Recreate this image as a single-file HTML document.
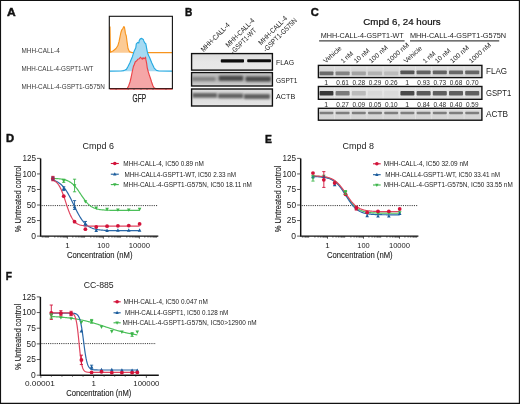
<!DOCTYPE html>
<html><head><meta charset="utf-8"><style>
html,body{margin:0;padding:0;background:#fff;width:520px;height:404px;overflow:hidden}
svg{display:block;will-change:transform}
</style></head><body>
<svg width="520" height="404" viewBox="0 0 520 404" font-family='"Liberation Sans", sans-serif'>
<defs><filter id="bl" x="-20%" y="-150%" width="140%" height="400%"><feGaussianBlur stdDeviation="0.6 0.75"/></filter><filter id="bl3" x="-20%" y="-150%" width="140%" height="400%"><feGaussianBlur stdDeviation="0.9 1.0"/></filter><linearGradient id="g0" x1="0" y1="0" x2="0" y2="1"><stop offset="0" stop-color="#dcdcdc"/><stop offset="0.5" stop-color="#e6e6e6"/><stop offset="1" stop-color="#e8e8e8"/></linearGradient><linearGradient id="g1" x1="0" y1="0" x2="0" y2="1"><stop offset="0" stop-color="#c4c4c4"/><stop offset="0.5" stop-color="#b4b4b4"/><stop offset="1" stop-color="#cdcdcd"/></linearGradient><linearGradient id="g2" x1="0" y1="0" x2="0" y2="1"><stop offset="0" stop-color="#d8d8d8"/><stop offset="0.5" stop-color="#dcdcdc"/><stop offset="1" stop-color="#e6e6e6"/></linearGradient><linearGradient id="g3" x1="0" y1="0" x2="0" y2="1"><stop offset="0" stop-color="#e0e0e0"/><stop offset="0.5" stop-color="#d4d4d4"/><stop offset="1" stop-color="#d2d2d2"/></linearGradient><linearGradient id="g4" x1="0" y1="0" x2="0" y2="1"><stop offset="0" stop-color="#e4e4e4"/><stop offset="0.5" stop-color="#e0e0e0"/><stop offset="1" stop-color="#dcdcdc"/></linearGradient><linearGradient id="g5" x1="0" y1="0" x2="0" y2="1"><stop offset="0" stop-color="#dedede"/><stop offset="0.5" stop-color="#d6d6d6"/><stop offset="1" stop-color="#d4d4d4"/></linearGradient></defs>
<rect x="0" y="0" width="520" height="404" fill="#fff"/>
<text x="7.10" y="15.90" font-size="11.20" font-weight="bold" fill="#111" textLength="8.70" lengthAdjust="spacingAndGlyphs" stroke="#111" stroke-width="0.45">A</text>
<text x="184.90" y="15.90" font-size="11.20" font-weight="bold" fill="#111" textLength="7.30" lengthAdjust="spacingAndGlyphs" stroke="#111" stroke-width="0.45">B</text>
<text x="310.70" y="16.20" font-size="11.20" font-weight="bold" fill="#111" textLength="8.10" lengthAdjust="spacingAndGlyphs" stroke="#111" stroke-width="0.45">C</text>
<text x="5.90" y="142.00" font-size="11.20" font-weight="bold" fill="#111" textLength="8.10" lengthAdjust="spacingAndGlyphs" stroke="#111" stroke-width="0.45">D</text>
<text x="265.10" y="142.60" font-size="11.20" font-weight="bold" fill="#111" textLength="6.90" lengthAdjust="spacingAndGlyphs" stroke="#111" stroke-width="0.45">E</text>
<text x="5.70" y="280.40" font-size="11.20" font-weight="bold" fill="#111" textLength="6.20" lengthAdjust="spacingAndGlyphs" stroke="#111" stroke-width="0.45">F</text>
<text x="21.50" y="53.10" font-size="6.80" fill="#383838" textLength="38.20" lengthAdjust="spacingAndGlyphs">MHH-CALL-4</text>
<text x="21.50" y="70.90" font-size="6.80" fill="#383838" textLength="71.90" lengthAdjust="spacingAndGlyphs">MHH-CALL-4-GSPT1-WT</text>
<text x="21.50" y="88.80" font-size="6.80" fill="#383838" textLength="83.30" lengthAdjust="spacingAndGlyphs">MHH-CALL-4-GSPT1-G575N</text>
<path d="M110.00,52.80 L110.00,26.50 L110.40,52.30 L113.30,50.70 L116.00,48.50 L117.80,45.80 L119.10,41.40 L120.00,36.90 L120.90,32.50 L121.80,29.80 L122.70,28.90 L123.10,28.00 L123.90,26.50 L124.50,27.60 L124.90,29.80 L125.40,33.40 L126.30,36.00 L127.10,42.30 L128.00,48.50 L129.40,51.60 L132.00,52.60 L172.30,52.60 L172.30,52.80 Z" fill="#fccb95" stroke="none"/>
<path d="M110.00,26.50 L110.40,52.30 L113.30,50.70 L116.00,48.50 L117.80,45.80 L119.10,41.40 L120.00,36.90 L120.90,32.50 L121.80,29.80 L122.70,28.90 L123.10,28.00 L123.90,26.50 L124.50,27.60 L124.90,29.80 L125.40,33.40 L126.30,36.00 L127.10,42.30 L128.00,48.50 L129.40,51.60 L132.00,52.60 L172.30,52.60" fill="none" stroke="#f7941d" stroke-width="1.15" stroke-linejoin="round"/>
<path d="M109.80,71.20 L109.80,71.10 L121.00,71.00 L123.50,70.60 L125.00,70.00 L126.40,69.40 L128.00,66.50 L129.90,62.70 L131.20,59.50 L132.40,56.70 L133.90,51.80 L135.80,47.80 L136.30,43.90 L137.80,42.40 L138.80,42.90 L139.30,40.40 L140.30,38.90 L141.80,38.40 L143.30,39.40 L143.80,40.90 L144.80,42.90 L145.70,43.40 L146.20,45.80 L147.20,51.30 L148.20,54.80 L149.70,57.70 L151.70,62.70 L154.20,68.10 L156.50,70.40 L159.00,71.00 L172.30,71.10 L172.30,71.20 Z" fill="#a6daf2" stroke="none"/>
<path d="M109.80,71.10 L121.00,71.00 L123.50,70.60 L125.00,70.00 L126.40,69.40 L128.00,66.50 L129.90,62.70 L131.20,59.50 L132.40,56.70 L133.90,51.80 L135.80,47.80 L136.30,43.90 L137.80,42.40 L138.80,42.90 L139.30,40.40 L140.30,38.90 L141.80,38.40 L143.30,39.40 L143.80,40.90 L144.80,42.90 L145.70,43.40 L146.20,45.80 L147.20,51.30 L148.20,54.80 L149.70,57.70 L151.70,62.70 L154.20,68.10 L156.50,70.40 L159.00,71.00 L172.30,71.10" fill="none" stroke="#27aae1" stroke-width="1.15" stroke-linejoin="round"/>
<path d="M109.80,88.60 L109.80,88.60 L127.20,88.60 L128.60,86.00 L130.00,82.00 L131.20,77.00 L132.30,71.50 L133.40,66.50 L134.40,64.20 L135.30,61.70 L136.80,60.70 L137.80,59.20 L139.30,58.70 L140.30,57.20 L141.30,58.20 L142.30,59.20 L143.00,57.70 L143.80,58.70 L144.80,58.20 L145.50,57.20 L145.90,59.70 L146.70,63.70 L147.20,67.60 L148.20,71.50 L149.30,75.00 L150.50,78.50 L151.60,82.00 L152.80,85.50 L154.00,87.80 L155.50,88.60 L172.30,88.60 L172.30,88.60 Z" fill="#f5a6a7" stroke="none"/>
<path d="M109.80,88.60 L127.20,88.60 L128.60,86.00 L130.00,82.00 L131.20,77.00 L132.30,71.50 L133.40,66.50 L134.40,64.20 L135.30,61.70 L136.80,60.70 L137.80,59.20 L139.30,58.70 L140.30,57.20 L141.30,58.20 L142.30,59.20 L143.00,57.70 L143.80,58.70 L144.80,58.20 L145.50,57.20 L145.90,59.70 L146.70,63.70 L147.20,67.60 L148.20,71.50 L149.30,75.00 L150.50,78.50 L151.60,82.00 L152.80,85.50 L154.00,87.80 L155.50,88.60 L172.30,88.60" fill="none" stroke="#ea4448" stroke-width="1.15" stroke-linejoin="round"/>
<rect x="109.3" y="16.3" width="63.1" height="72.4" fill="none" stroke="#111" stroke-width="1.1"/>
<path d="M110,89.3 H172.5" stroke="#e33" stroke-width="0.8" opacity="0.75"/>
<path d="M116.1,89 V90 M128.2,89 V90 M134,89 V90 M141,89 V90 M147,89 V90 M153,89 V90 M166,89 V90" stroke="#333" stroke-width="0.8" opacity="0.6"/>
<text x="132.60" y="102.30" font-size="10.30" fill="#222" textLength="13.40" lengthAdjust="spacingAndGlyphs" stroke="#222" stroke-width="0.25">GFP</text>
<rect x="191.60" y="53.60" width="80.80" height="16.50" fill="url(#g0)" stroke="none"/>
<rect x="220.80" y="59.20" width="23.20" height="3.40" rx="0.8" fill="#0c0c0c" opacity="1" filter="url(#bl)"/>
<rect x="247.20" y="59.15" width="23.80" height="3.10" rx="0.8" fill="#111" opacity="1" filter="url(#bl)"/>
<rect x="192.50" y="54.50" width="79.00" height="14.70" fill="none" stroke="#fff" stroke-width="0.5" opacity="0.6"/>
<rect x="191.60" y="53.60" width="80.80" height="16.50" fill="none" stroke="#111" stroke-width="1.4"/>
<rect x="191.60" y="72.60" width="80.80" height="13.40" fill="url(#g1)" stroke="none"/>
<rect x="192.00" y="76.90" width="23.50" height="4.00" rx="0.8" fill="#848484" opacity="1" filter="url(#bl3)"/>
<rect x="218.80" y="75.80" width="24.40" height="5.00" rx="0.8" fill="#484848" opacity="1" filter="url(#bl3)"/>
<rect x="245.60" y="76.40" width="25.20" height="5.00" rx="0.8" fill="#4c4c4c" opacity="1" filter="url(#bl3)"/>
<rect x="192.50" y="73.50" width="79.00" height="11.60" fill="none" stroke="#fff" stroke-width="0.5" opacity="0.6"/>
<rect x="191.60" y="72.60" width="80.80" height="13.40" fill="none" stroke="#111" stroke-width="1.4"/>
<rect x="191.60" y="89.00" width="80.80" height="17.00" fill="url(#g2)" stroke="none"/>
<rect x="192.40" y="92.90" width="24.80" height="4.80" rx="0.8" fill="#646464" opacity="1" filter="url(#bl3)"/>
<rect x="218.00" y="93.50" width="25.20" height="4.80" rx="0.8" fill="#606060" opacity="1" filter="url(#bl3)"/>
<rect x="243.80" y="94.10" width="26.20" height="4.80" rx="0.8" fill="#606060" opacity="1" filter="url(#bl3)"/>
<rect x="192.50" y="89.90" width="79.00" height="15.20" fill="none" stroke="#fff" stroke-width="0.5" opacity="0.6"/>
<rect x="191.60" y="89.00" width="80.80" height="17.00" fill="none" stroke="#111" stroke-width="1.4"/>
<text x="276.00" y="64.90" font-size="7.50" fill="#222" textLength="18.00" lengthAdjust="spacingAndGlyphs">FLAG</text>
<text x="276.00" y="83.00" font-size="7.50" fill="#222" textLength="21.50" lengthAdjust="spacingAndGlyphs">GSPT1</text>
<text x="276.00" y="98.70" font-size="7.50" fill="#222" textLength="19.20" lengthAdjust="spacingAndGlyphs">ACTB</text>
<text x="203.70" y="52.20" font-size="7.20" fill="#222" textLength="37.60" lengthAdjust="spacingAndGlyphs" transform="rotate(-45 203.70 52.20)">MHH-CALL-4</text>
<text x="228.40" y="47.70" font-size="7.20" fill="#222" textLength="37.60" lengthAdjust="spacingAndGlyphs" transform="rotate(-45 228.40 47.70)">MHH-CALL-4</text>
<text x="233.60" y="54.20" font-size="7.20" fill="#222" textLength="33.00" lengthAdjust="spacingAndGlyphs" transform="rotate(-45 233.60 54.20)">-GSPT1-WT</text>
<text x="261.20" y="45.40" font-size="7.20" fill="#222" textLength="37.60" lengthAdjust="spacingAndGlyphs" transform="rotate(-45 261.20 45.40)">MHH-CALL-4</text>
<text x="266.00" y="52.40" font-size="7.20" fill="#222" textLength="44.60" lengthAdjust="spacingAndGlyphs" transform="rotate(-45 266.00 52.40)">-GSPT1-G575N</text>
<text x="363.30" y="24.60" font-size="8.90" fill="#111" textLength="77.40" lengthAdjust="spacingAndGlyphs" stroke="#111" stroke-width="0.2">Cmpd 6, 24 hours</text>
<text x="320.70" y="38.00" font-size="7.20" fill="#222" textLength="83.10" lengthAdjust="spacingAndGlyphs">MHH-CALL-4-GSPT1-WT</text>
<text x="409.90" y="38.30" font-size="7.20" fill="#222" textLength="96.20" lengthAdjust="spacingAndGlyphs">MHH-CALL-4-GSPT1-G575N</text>
<path d="M319.1,40.9 H404.6 M410,40.9 H499.2" stroke="#444" stroke-width="1.4"/>
<text x="325.81" y="63.60" font-size="6.70" fill="#222" textLength="22.00" lengthAdjust="spacingAndGlyphs" transform="rotate(-42 325.81 63.60)">Vehicle</text>
<text x="343.15" y="63.60" font-size="6.70" fill="#222" textLength="14.20" lengthAdjust="spacingAndGlyphs" transform="rotate(-42 343.15 63.60)">1 nM</text>
<text x="356.38" y="63.60" font-size="6.70" fill="#222" textLength="18.50" lengthAdjust="spacingAndGlyphs" transform="rotate(-42 356.38 63.60)">10 nM</text>
<text x="371.21" y="63.60" font-size="6.70" fill="#222" textLength="23.00" lengthAdjust="spacingAndGlyphs" transform="rotate(-42 371.21 63.60)">100 nM</text>
<text x="389.44" y="63.60" font-size="6.70" fill="#222" textLength="27.00" lengthAdjust="spacingAndGlyphs" transform="rotate(-42 389.44 63.60)">1000 nM</text>
<text x="406.27" y="63.60" font-size="6.70" fill="#222" textLength="22.00" lengthAdjust="spacingAndGlyphs" transform="rotate(-42 406.27 63.60)">Vehicle</text>
<text x="425.30" y="63.60" font-size="6.70" fill="#222" textLength="14.20" lengthAdjust="spacingAndGlyphs" transform="rotate(-42 425.30 63.60)">1 nM</text>
<text x="437.32" y="63.60" font-size="6.70" fill="#222" textLength="18.50" lengthAdjust="spacingAndGlyphs" transform="rotate(-42 437.32 63.60)">10 nM</text>
<text x="452.56" y="63.60" font-size="6.70" fill="#222" textLength="23.00" lengthAdjust="spacingAndGlyphs" transform="rotate(-42 452.56 63.60)">100 nM</text>
<text x="471.38" y="63.60" font-size="6.70" fill="#222" textLength="27.00" lengthAdjust="spacingAndGlyphs" transform="rotate(-42 471.38 63.60)">1000 nM</text>
<rect x="318.40" y="65.40" width="163.50" height="12.20" fill="url(#g3)" stroke="none"/>
<rect x="319.40" y="71.50" width="14.00" height="3.80" rx="0.8" fill="#6a6a6a" opacity="1" filter="url(#bl)"/>
<rect x="335.60" y="71.50" width="14.00" height="3.80" rx="0.8" fill="#838383" opacity="1" filter="url(#bl)"/>
<rect x="351.80" y="71.50" width="14.00" height="3.80" rx="0.8" fill="#a3a3a3" opacity="1" filter="url(#bl)"/>
<rect x="368.00" y="71.50" width="14.00" height="3.80" rx="0.8" fill="#b3b3b3" opacity="1" filter="url(#bl)"/>
<rect x="384.20" y="71.50" width="14.00" height="3.80" rx="0.8" fill="#bcbcbc" opacity="1" filter="url(#bl)"/>
<rect x="400.40" y="70.50" width="14.00" height="3.80" rx="0.8" fill="#555555" opacity="1" filter="url(#bl)"/>
<rect x="416.60" y="70.50" width="14.00" height="3.80" rx="0.8" fill="#626262" opacity="1" filter="url(#bl)"/>
<rect x="432.80" y="70.50" width="14.00" height="3.80" rx="0.8" fill="#646464" opacity="1" filter="url(#bl)"/>
<rect x="449.00" y="70.50" width="14.00" height="3.80" rx="0.8" fill="#686868" opacity="1" filter="url(#bl)"/>
<rect x="465.20" y="70.50" width="14.00" height="3.80" rx="0.8" fill="#666666" opacity="1" filter="url(#bl)"/>
<path d="M334.50,65.40 V77.60 M350.70,65.40 V77.60 M366.90,65.40 V77.60 M383.10,65.40 V77.60 M399.30,65.40 V77.60 M415.50,65.40 V77.60 M431.70,65.40 V77.60 M447.90,65.40 V77.60 M464.10,65.40 V77.60 " stroke="#fff" stroke-width="0.8" opacity="0.35"/>
<rect x="319.30" y="66.30" width="161.70" height="10.40" fill="none" stroke="#fff" stroke-width="0.5" opacity="0.6"/>
<rect x="318.40" y="65.40" width="163.50" height="12.20" fill="none" stroke="#111" stroke-width="1.4"/>
<rect x="318.40" y="86.50" width="163.50" height="12.80" fill="url(#g4)" stroke="none"/>
<rect x="319.40" y="91.10" width="14.00" height="4.40" rx="0.8" fill="#383838" opacity="1" filter="url(#bl)"/>
<rect x="335.60" y="91.10" width="14.00" height="4.40" rx="0.8" fill="#7a7a7a" opacity="1" filter="url(#bl)"/>
<rect x="351.80" y="91.10" width="14.00" height="4.40" rx="0.8" fill="#bababa" opacity="1" filter="url(#bl)"/>
<rect x="368.00" y="91.10" width="14.00" height="4.40" rx="0.8" fill="#d8d8d8" opacity="1" filter="url(#bl)"/>
<rect x="384.20" y="91.10" width="14.00" height="4.40" rx="0.8" fill="#dadada" opacity="1" filter="url(#bl)"/>
<rect x="400.40" y="91.10" width="14.00" height="4.40" rx="0.8" fill="#4a4a4a" opacity="1" filter="url(#bl)"/>
<rect x="416.60" y="91.10" width="14.00" height="4.40" rx="0.8" fill="#5a5a5a" opacity="1" filter="url(#bl)"/>
<rect x="432.80" y="91.10" width="14.00" height="4.40" rx="0.8" fill="#5e5e5e" opacity="1" filter="url(#bl)"/>
<rect x="449.00" y="91.10" width="14.00" height="4.40" rx="0.8" fill="#5e5e5e" opacity="1" filter="url(#bl)"/>
<rect x="465.20" y="91.10" width="14.00" height="4.40" rx="0.8" fill="#606060" opacity="1" filter="url(#bl)"/>
<path d="M334.50,86.50 V99.30 M350.70,86.50 V99.30 M366.90,86.50 V99.30 M383.10,86.50 V99.30 M399.30,86.50 V99.30 M415.50,86.50 V99.30 M431.70,86.50 V99.30 M447.90,86.50 V99.30 M464.10,86.50 V99.30 " stroke="#fff" stroke-width="0.8" opacity="0.35"/>
<rect x="319.30" y="87.40" width="161.70" height="11.00" fill="none" stroke="#fff" stroke-width="0.5" opacity="0.6"/>
<rect x="318.40" y="86.50" width="163.50" height="12.80" fill="none" stroke="#111" stroke-width="1.4"/>
<rect x="318.40" y="108.30" width="163.50" height="11.90" fill="url(#g5)" stroke="none"/>
<rect x="319.40" y="111.85" width="14.00" height="2.30" rx="0.8" fill="#7e7e7e" opacity="1" filter="url(#bl)"/>
<rect x="335.60" y="111.85" width="14.00" height="2.30" rx="0.8" fill="#7e7e7e" opacity="1" filter="url(#bl)"/>
<rect x="351.80" y="111.85" width="14.00" height="2.30" rx="0.8" fill="#7e7e7e" opacity="1" filter="url(#bl)"/>
<rect x="368.00" y="111.85" width="14.00" height="2.30" rx="0.8" fill="#7e7e7e" opacity="1" filter="url(#bl)"/>
<rect x="384.20" y="111.85" width="14.00" height="2.30" rx="0.8" fill="#7e7e7e" opacity="1" filter="url(#bl)"/>
<rect x="400.40" y="111.85" width="14.00" height="2.30" rx="0.8" fill="#7e7e7e" opacity="1" filter="url(#bl)"/>
<rect x="416.60" y="111.85" width="14.00" height="2.30" rx="0.8" fill="#7e7e7e" opacity="1" filter="url(#bl)"/>
<rect x="432.80" y="111.85" width="14.00" height="2.30" rx="0.8" fill="#7e7e7e" opacity="1" filter="url(#bl)"/>
<rect x="449.00" y="111.85" width="14.00" height="2.30" rx="0.8" fill="#7e7e7e" opacity="1" filter="url(#bl)"/>
<rect x="465.20" y="111.85" width="14.00" height="2.30" rx="0.8" fill="#7e7e7e" opacity="1" filter="url(#bl)"/>
<path d="M334.50,108.30 V120.20 M350.70,108.30 V120.20 M366.90,108.30 V120.20 M383.10,108.30 V120.20 M399.30,108.30 V120.20 M415.50,108.30 V120.20 M431.70,108.30 V120.20 M447.90,108.30 V120.20 M464.10,108.30 V120.20 " stroke="#fff" stroke-width="0.8" opacity="0.35"/>
<rect x="319.30" y="109.20" width="161.70" height="10.10" fill="none" stroke="#fff" stroke-width="0.5" opacity="0.6"/>
<rect x="318.40" y="108.30" width="163.50" height="11.90" fill="none" stroke="#111" stroke-width="1.4"/>
<text x="326.10" y="84.90" font-size="6.90" text-anchor="middle" fill="#2a2a2a">1</text>
<text x="326.10" y="106.60" font-size="6.90" text-anchor="middle" fill="#2a2a2a">1</text>
<text x="342.60" y="84.90" font-size="6.90" text-anchor="middle" fill="#2a2a2a" textLength="12.60" lengthAdjust="spacingAndGlyphs">0.61</text>
<text x="342.60" y="106.60" font-size="6.90" text-anchor="middle" fill="#2a2a2a" textLength="12.60" lengthAdjust="spacingAndGlyphs">0.27</text>
<text x="358.80" y="84.90" font-size="6.90" text-anchor="middle" fill="#2a2a2a" textLength="12.60" lengthAdjust="spacingAndGlyphs">0.28</text>
<text x="358.80" y="106.60" font-size="6.90" text-anchor="middle" fill="#2a2a2a" textLength="12.60" lengthAdjust="spacingAndGlyphs">0.09</text>
<text x="375.00" y="84.90" font-size="6.90" text-anchor="middle" fill="#2a2a2a" textLength="12.60" lengthAdjust="spacingAndGlyphs">0.29</text>
<text x="375.00" y="106.60" font-size="6.90" text-anchor="middle" fill="#2a2a2a" textLength="12.60" lengthAdjust="spacingAndGlyphs">0.05</text>
<text x="391.20" y="84.90" font-size="6.90" text-anchor="middle" fill="#2a2a2a" textLength="12.60" lengthAdjust="spacingAndGlyphs">0.26</text>
<text x="391.20" y="106.60" font-size="6.90" text-anchor="middle" fill="#2a2a2a" textLength="12.60" lengthAdjust="spacingAndGlyphs">0.10</text>
<text x="407.10" y="84.90" font-size="6.90" text-anchor="middle" fill="#2a2a2a">1</text>
<text x="407.10" y="106.60" font-size="6.90" text-anchor="middle" fill="#2a2a2a">1</text>
<text x="423.60" y="84.90" font-size="6.90" text-anchor="middle" fill="#2a2a2a" textLength="12.60" lengthAdjust="spacingAndGlyphs">0.93</text>
<text x="423.60" y="106.60" font-size="6.90" text-anchor="middle" fill="#2a2a2a" textLength="12.60" lengthAdjust="spacingAndGlyphs">0.84</text>
<text x="439.80" y="84.90" font-size="6.90" text-anchor="middle" fill="#2a2a2a" textLength="12.60" lengthAdjust="spacingAndGlyphs">0.73</text>
<text x="439.80" y="106.60" font-size="6.90" text-anchor="middle" fill="#2a2a2a" textLength="12.60" lengthAdjust="spacingAndGlyphs">0.48</text>
<text x="456.00" y="84.90" font-size="6.90" text-anchor="middle" fill="#2a2a2a" textLength="12.60" lengthAdjust="spacingAndGlyphs">0.68</text>
<text x="456.00" y="106.60" font-size="6.90" text-anchor="middle" fill="#2a2a2a" textLength="12.60" lengthAdjust="spacingAndGlyphs">0.40</text>
<text x="472.20" y="84.90" font-size="6.90" text-anchor="middle" fill="#2a2a2a" textLength="12.60" lengthAdjust="spacingAndGlyphs">0.70</text>
<text x="472.20" y="106.60" font-size="6.90" text-anchor="middle" fill="#2a2a2a" textLength="12.60" lengthAdjust="spacingAndGlyphs">0.59</text>
<text x="486.00" y="74.20" font-size="9.00" fill="#222" textLength="21.00" lengthAdjust="spacingAndGlyphs">FLAG</text>
<text x="486.00" y="96.20" font-size="9.00" fill="#222" textLength="25.20" lengthAdjust="spacingAndGlyphs">GSPT1</text>
<text x="486.00" y="117.10" font-size="9.00" fill="#222" textLength="22.00" lengthAdjust="spacingAndGlyphs">ACTB</text>
<path d="M40.60,158.40 V236.70 M40.00,236.10 H158.30" stroke="#111" stroke-width="1.45" fill="none"/>
<path d="M37.00,236.10 H40.60 M37.00,220.56 H40.60 M37.00,205.02 H40.60 M37.00,189.48 H40.60 M37.00,173.94 H40.60 M37.00,158.40 H40.60 M67.40,236.10 V238.70 M103.40,236.10 V238.70 M139.40,236.10 V238.70 M42.24,236.10 V237.60 M43.98,236.10 V237.60 M45.41,236.10 V237.60 M46.61,236.10 V237.60 M47.66,236.10 V237.60 M48.58,236.10 V237.60 M54.82,236.10 V237.60 M57.99,236.10 V237.60 M60.24,236.10 V237.60 M61.98,236.10 V237.60 M63.41,236.10 V237.60 M64.61,236.10 V237.60 M65.66,236.10 V237.60 M66.58,236.10 V237.60 M72.82,236.10 V237.60 M75.99,236.10 V237.60 M78.24,236.10 V237.60 M79.98,236.10 V237.60 M81.41,236.10 V237.60 M82.61,236.10 V237.60 M83.66,236.10 V237.60 M84.58,236.10 V237.60 M90.82,236.10 V237.60 M93.99,236.10 V237.60 M96.24,236.10 V237.60 M97.98,236.10 V237.60 M99.41,236.10 V237.60 M100.61,236.10 V237.60 M101.66,236.10 V237.60 M102.58,236.10 V237.60 M108.82,236.10 V237.60 M111.99,236.10 V237.60 M114.24,236.10 V237.60 M115.98,236.10 V237.60 M117.41,236.10 V237.60 M118.61,236.10 V237.60 M119.66,236.10 V237.60 M120.58,236.10 V237.60 M126.82,236.10 V237.60 M129.99,236.10 V237.60 M132.24,236.10 V237.60 M133.98,236.10 V237.60 M135.41,236.10 V237.60 M136.61,236.10 V237.60 M137.66,236.10 V237.60 M138.58,236.10 V237.60 M144.82,236.10 V237.60 M147.99,236.10 V237.60 M150.24,236.10 V237.60 M151.98,236.10 V237.60 M153.41,236.10 V237.60 M154.61,236.10 V237.60 M155.66,236.10 V237.60 M156.58,236.10 V237.60 " stroke="#222" stroke-width="0.75" fill="none"/>
<text x="36.00" y="238.85" font-size="8.50" text-anchor="end" fill="#222">0</text>
<text x="36.00" y="223.31" font-size="8.50" text-anchor="end" fill="#222" textLength="9.30" lengthAdjust="spacingAndGlyphs">25</text>
<text x="36.00" y="207.77" font-size="8.50" text-anchor="end" fill="#222" textLength="9.30" lengthAdjust="spacingAndGlyphs">50</text>
<text x="36.00" y="192.23" font-size="8.50" text-anchor="end" fill="#222" textLength="9.30" lengthAdjust="spacingAndGlyphs">75</text>
<text x="36.00" y="176.69" font-size="8.50" text-anchor="end" fill="#222" textLength="13.60" lengthAdjust="spacingAndGlyphs">100</text>
<text x="36.00" y="161.15" font-size="8.50" text-anchor="end" fill="#222" textLength="13.60" lengthAdjust="spacingAndGlyphs">125</text>
<text x="67.40" y="248.40" font-size="7.90" text-anchor="middle" fill="#222">1</text>
<text x="103.40" y="248.40" font-size="7.90" text-anchor="middle" fill="#222" textLength="12.40" lengthAdjust="spacingAndGlyphs">100</text>
<text x="139.40" y="248.40" font-size="7.90" text-anchor="middle" fill="#222" textLength="21.20" lengthAdjust="spacingAndGlyphs">10000</text>
<text x="66.90" y="257.80" font-size="9.80" fill="#222" textLength="65.60" lengthAdjust="spacingAndGlyphs" stroke="#222" stroke-width="0.12">Concentration (nM)</text>
<text x="20.70" y="199.00" font-size="8.90" text-anchor="middle" fill="#222" textLength="66.50" lengthAdjust="spacingAndGlyphs" transform="rotate(-90 20.70 199.00)" stroke="#222" stroke-width="0.12">% Untreated control</text>
<text x="82.50" y="148.90" font-size="8.40" fill="#222" textLength="31.40" lengthAdjust="spacingAndGlyphs">Cmpd 6</text>
<path d="M41.60,205.58 H157.70" stroke="#222" stroke-width="0.9" stroke-dasharray="1.1 1.1"/>
<path d="M52.89,178.43 L53.61,178.45 L54.33,178.48 L55.06,178.51 L55.78,178.55 L56.50,178.59 L57.22,178.64 L57.95,178.69 L58.67,178.75 L59.39,178.82 L60.11,178.90 L60.84,178.99 L61.56,179.10 L62.28,179.22 L63.00,179.35 L63.73,179.50 L64.45,179.68 L65.17,179.87 L65.89,180.10 L66.62,180.35 L67.34,180.63 L68.06,180.94 L68.78,181.30 L69.51,181.69 L70.23,182.13 L70.95,182.62 L71.67,183.16 L72.40,183.75 L73.12,184.40 L73.84,185.10 L74.56,185.86 L75.29,186.68 L76.01,187.55 L76.73,188.47 L77.45,189.44 L78.18,190.45 L78.90,191.49 L79.62,192.56 L80.34,193.65 L81.07,194.74 L81.79,195.83 L82.51,196.90 L83.23,197.95 L83.96,198.97 L84.68,199.95 L85.40,200.89 L86.12,201.77 L86.84,202.60 L87.57,203.38 L88.29,204.09 L89.01,204.75 L89.73,205.36 L90.46,205.91 L91.18,206.41 L91.90,206.86 L92.62,207.27 L93.35,207.63 L94.07,207.96 L94.79,208.25 L95.51,208.51 L96.24,208.74 L96.96,208.94 L97.68,209.12 L98.40,209.28 L99.13,209.42 L99.85,209.54 L100.57,209.65 L101.29,209.74 L102.02,209.82 L102.74,209.90 L103.46,209.96 L104.18,210.02 L104.91,210.07 L105.63,210.11 L106.35,210.15 L107.07,210.18 L107.80,210.21 L108.52,210.23 L109.24,210.26 L109.96,210.28 L110.69,210.29 L111.41,210.31 L112.13,210.32 L112.85,210.33 L113.58,210.34 L114.30,210.35 L115.02,210.36 L115.74,210.36 L116.47,210.37 L117.19,210.37 L117.91,210.38 L118.63,210.38 L119.36,210.39 L120.08,210.39 L120.80,210.39 L121.52,210.39 L122.25,210.39 L122.97,210.40 L123.69,210.40 L124.41,210.40 L125.14,210.40 L125.86,210.40 L126.58,210.40 L127.30,210.40 L128.03,210.40 L128.75,210.40 L129.47,210.40 L130.19,210.41 L130.92,210.41 L131.64,210.41 L132.36,210.41 L133.08,210.41 L133.81,210.41 L134.53,210.41 L135.25,210.41 L135.97,210.41 L136.70,210.41 L137.42,210.41 L138.14,210.41 L138.86,210.41 L139.59,210.41" fill="none" stroke="#4cc05a" stroke-width="1.2" stroke-linejoin="round"/>
<path d="M52.89,180.11 L53.61,180.33 L54.33,180.57 L55.06,180.84 L55.78,181.14 L56.50,181.47 L57.22,181.84 L57.95,182.25 L58.67,182.69 L59.39,183.19 L60.11,183.73 L60.84,184.32 L61.56,184.97 L62.28,185.67 L63.00,186.44 L63.73,187.27 L64.45,188.16 L65.17,189.12 L65.89,190.15 L66.62,191.25 L67.34,192.41 L68.06,193.64 L68.78,194.92 L69.51,196.26 L70.23,197.65 L70.95,199.08 L71.67,200.55 L72.40,202.04 L73.12,203.55 L73.84,205.06 L74.56,206.57 L75.29,208.07 L76.01,209.54 L76.73,210.98 L77.45,212.38 L78.18,213.74 L78.90,215.03 L79.62,216.27 L80.34,217.45 L81.07,218.56 L81.79,219.61 L82.51,220.58 L83.23,221.49 L83.96,222.34 L84.68,223.12 L85.40,223.84 L86.12,224.50 L86.84,225.10 L87.57,225.66 L88.29,226.16 L89.01,226.62 L89.73,227.03 L90.46,227.41 L91.18,227.75 L91.90,228.05 L92.62,228.33 L93.35,228.58 L94.07,228.80 L94.79,229.00 L95.51,229.18 L96.24,229.35 L96.96,229.49 L97.68,229.62 L98.40,229.74 L99.13,229.84 L99.85,229.93 L100.57,230.02 L101.29,230.09 L102.02,230.16 L102.74,230.22 L103.46,230.27 L104.18,230.32 L104.91,230.36 L105.63,230.40 L106.35,230.43 L107.07,230.46 L107.80,230.49 L108.52,230.51 L109.24,230.53 L109.96,230.55 L110.69,230.57 L111.41,230.58 L112.13,230.60 L112.85,230.61 L113.58,230.62 L114.30,230.63 L115.02,230.64 L115.74,230.65 L116.47,230.65 L117.19,230.66 L117.91,230.66 L118.63,230.67 L119.36,230.67 L120.08,230.68 L120.80,230.68 L121.52,230.68 L122.25,230.69 L122.97,230.69 L123.69,230.69 L124.41,230.69 L125.14,230.69 L125.86,230.69 L126.58,230.70 L127.30,230.70 L128.03,230.70 L128.75,230.70 L129.47,230.70 L130.19,230.70 L130.92,230.70 L131.64,230.70 L132.36,230.70 L133.08,230.70 L133.81,230.70 L134.53,230.70 L135.25,230.70 L135.97,230.70 L136.70,230.70 L137.42,230.70 L138.14,230.71 L138.86,230.71 L139.59,230.71" fill="none" stroke="#2a68a8" stroke-width="1.2" stroke-linejoin="round"/>
<path d="M52.89,179.98 L53.61,180.31 L54.33,180.71 L55.06,181.17 L55.78,181.72 L56.50,182.36 L57.22,183.11 L57.95,183.98 L58.67,184.98 L59.39,186.12 L60.11,187.41 L60.84,188.86 L61.56,190.47 L62.28,192.22 L63.00,194.12 L63.73,196.14 L64.45,198.25 L65.17,200.43 L65.89,202.64 L66.62,204.85 L67.34,207.01 L68.06,209.09 L68.78,211.06 L69.51,212.90 L70.23,214.60 L70.95,216.15 L71.67,217.53 L72.40,218.76 L73.12,219.85 L73.84,220.80 L74.56,221.62 L75.29,222.32 L76.01,222.93 L76.73,223.44 L77.45,223.88 L78.18,224.25 L78.90,224.56 L79.62,224.83 L80.34,225.05 L81.07,225.23 L81.79,225.39 L82.51,225.52 L83.23,225.63 L83.96,225.72 L84.68,225.79 L85.40,225.86 L86.12,225.91 L86.84,225.95 L87.57,225.99 L88.29,226.02 L89.01,226.04 L89.73,226.06 L90.46,226.08 L91.18,226.10 L91.90,226.11 L92.62,226.12 L93.35,226.13 L94.07,226.13 L94.79,226.14 L95.51,226.14 L96.24,226.15 L96.96,226.15 L97.68,226.15 L98.40,226.16 L99.13,226.16 L99.85,226.16 L100.57,226.16 L101.29,226.16 L102.02,226.16 L102.74,226.16 L103.46,226.16 L104.18,226.17 L104.91,226.17 L105.63,226.17 L106.35,226.17 L107.07,226.17 L107.80,226.17 L108.52,226.17 L109.24,226.17 L109.96,226.17 L110.69,226.17 L111.41,226.17 L112.13,226.17 L112.85,226.17 L113.58,226.17 L114.30,226.17 L115.02,226.17 L115.74,226.17 L116.47,226.17 L117.19,226.17 L117.91,226.17 L118.63,226.17 L119.36,226.17 L120.08,226.17 L120.80,226.17 L121.52,226.17 L122.25,226.17 L122.97,226.17 L123.69,226.17 L124.41,226.17 L125.14,226.17 L125.86,226.17 L126.58,226.17 L127.30,226.17 L128.03,226.17 L128.75,226.17 L129.47,226.17 L130.19,226.17 L130.92,226.17 L131.64,226.17 L132.36,226.17 L133.08,226.17 L133.81,226.17 L134.53,226.17 L135.25,226.17 L135.97,226.17 L136.70,226.17 L137.42,226.17 L138.14,226.17 L138.86,226.17 L139.59,226.17" fill="none" stroke="#e0455f" stroke-width="1.2" stroke-linejoin="round"/>
<path d="M52.89,180.61 L54.69,177.21 L51.09,177.21 Z" fill="#3cb54a"/>
<path d="M63.73,182.76 L65.53,179.36 L61.93,179.36 Z" fill="#3cb54a"/>
<path d="M74.56,187.55 L76.36,184.15 L72.76,184.15 Z" fill="#3cb54a"/>
<path d="M85.40,203.56 L87.20,200.16 L83.60,200.16 Z" fill="#3cb54a"/>
<path d="M96.24,209.93 L98.04,206.53 L94.44,206.53 Z" fill="#3cb54a"/>
<path d="M107.07,211.19 L108.87,207.79 L105.27,207.79 Z" fill="#3cb54a"/>
<path d="M117.91,211.82 L119.71,208.42 L116.11,208.42 Z" fill="#3cb54a"/>
<path d="M128.75,211.82 L130.55,208.42 L126.95,208.42 Z" fill="#3cb54a"/>
<path d="M139.59,211.19 L141.39,207.79 L137.79,207.79 Z" fill="#3cb54a"/>
<path d="M52.89,176.53 L54.69,179.93 L51.09,179.93 Z" fill="#1b5c9c"/>
<path d="M63.73,186.62 L65.53,190.02 L61.93,190.02 Z" fill="#1b5c9c"/>
<path d="M74.56,204.90 L76.36,208.30 L72.76,208.30 Z" fill="#1b5c9c"/>
<path d="M85.40,221.67 L87.20,225.07 L83.60,225.07 Z" fill="#1b5c9c"/>
<path d="M96.24,228.54 L98.04,231.94 L94.44,231.94 Z" fill="#1b5c9c"/>
<path d="M107.07,228.54 L108.87,231.94 L105.27,231.94 Z" fill="#1b5c9c"/>
<path d="M117.91,228.35 L119.71,231.75 L116.11,231.75 Z" fill="#1b5c9c"/>
<path d="M128.75,228.23 L130.55,231.63 L126.95,231.63 Z" fill="#1b5c9c"/>
<path d="M139.59,228.23 L141.39,231.63 L137.79,231.63 Z" fill="#1b5c9c"/>
<circle cx="52.89" cy="178.57" r="1.90" fill="#d2133a"/>
<circle cx="63.73" cy="196.22" r="1.90" fill="#d2133a"/>
<circle cx="74.56" cy="221.69" r="1.90" fill="#d2133a"/>
<circle cx="85.40" cy="229.19" r="1.90" fill="#d2133a"/>
<circle cx="96.24" cy="226.99" r="1.90" fill="#d2133a"/>
<circle cx="107.07" cy="226.17" r="1.90" fill="#d2133a"/>
<circle cx="117.91" cy="225.85" r="1.90" fill="#d2133a"/>
<circle cx="128.75" cy="225.54" r="1.90" fill="#d2133a"/>
<circle cx="139.59" cy="223.96" r="1.90" fill="#d2133a"/>
<path d="M74.56,191.81 V179.20 M72.96,191.81 H76.16 M72.96,179.20 H76.16" stroke="#3cb54a" stroke-width="0.9" fill="none"/>
<path d="M63.73,182.36 V179.20 M62.13,182.36 H65.33 M62.13,179.20 H65.33" stroke="#3cb54a" stroke-width="0.9" fill="none"/>
<path d="M74.56,209.46 V200.64 M72.96,209.46 H76.16 M72.96,200.64 H76.16" stroke="#1b5c9c" stroke-width="0.9" fill="none"/>
<path d="M63.73,190.55 V186.77 M62.13,190.55 H65.33 M62.13,186.77 H65.33" stroke="#1b5c9c" stroke-width="0.9" fill="none"/>
<path d="M85.40,225.85 V221.44 M83.80,225.85 H87.00 M83.80,221.44 H87.00" stroke="#1b5c9c" stroke-width="0.9" fill="none"/>
<path d="M52.89,180.15 V177.00 M51.29,180.15 H54.49 M51.29,177.00 H54.49" stroke="#1b5c9c" stroke-width="0.9" fill="none"/>
<path d="M52.89,180.78 V176.37 M51.29,180.78 H54.49 M51.29,176.37 H54.49" stroke="#d2133a" stroke-width="0.9" fill="none"/>
<path d="M110.80,163.50 H118.80" stroke="#d2133a" stroke-width="1.1"/>
<circle cx="114.80" cy="163.50" r="1.80" fill="#d2133a"/>
<text x="123.30" y="165.80" font-size="6.60" fill="#222" textLength="80.60" lengthAdjust="spacingAndGlyphs">MHH-CALL-4, IC50 0.89 nM</text>
<path d="M110.80,174.20 H118.80" stroke="#1b5c9c" stroke-width="1.1"/>
<path d="M114.80,172.26 L116.51,175.49 L113.09,175.49 Z" fill="#1b5c9c"/>
<text x="124.50" y="176.50" font-size="6.60" fill="#222" textLength="111.50" lengthAdjust="spacingAndGlyphs">MHH-CALL4-GSPT1-WT, IC50 2.33 nM</text>
<path d="M110.80,184.60 H118.80" stroke="#3cb54a" stroke-width="1.1"/>
<path d="M114.80,186.54 L116.51,183.31 L113.09,183.31 Z" fill="#3cb54a"/>
<text x="123.30" y="186.90" font-size="6.60" fill="#222" textLength="128.60" lengthAdjust="spacingAndGlyphs">MHH-CALL-4-GSPT1-G575N, IC50 18.11 nM</text>
<path d="M300.70,158.40 V236.70 M300.10,236.10 H418.40" stroke="#111" stroke-width="1.45" fill="none"/>
<path d="M297.10,236.10 H300.70 M297.10,220.56 H300.70 M297.10,205.02 H300.70 M297.10,189.48 H300.70 M297.10,173.94 H300.70 M297.10,158.40 H300.70 M327.50,236.10 V238.70 M363.50,236.10 V238.70 M399.50,236.10 V238.70 M302.34,236.10 V237.60 M304.08,236.10 V237.60 M305.51,236.10 V237.60 M306.71,236.10 V237.60 M307.76,236.10 V237.60 M308.68,236.10 V237.60 M314.92,236.10 V237.60 M318.09,236.10 V237.60 M320.34,236.10 V237.60 M322.08,236.10 V237.60 M323.51,236.10 V237.60 M324.71,236.10 V237.60 M325.76,236.10 V237.60 M326.68,236.10 V237.60 M332.92,236.10 V237.60 M336.09,236.10 V237.60 M338.34,236.10 V237.60 M340.08,236.10 V237.60 M341.51,236.10 V237.60 M342.71,236.10 V237.60 M343.76,236.10 V237.60 M344.68,236.10 V237.60 M350.92,236.10 V237.60 M354.09,236.10 V237.60 M356.34,236.10 V237.60 M358.08,236.10 V237.60 M359.51,236.10 V237.60 M360.71,236.10 V237.60 M361.76,236.10 V237.60 M362.68,236.10 V237.60 M368.92,236.10 V237.60 M372.09,236.10 V237.60 M374.34,236.10 V237.60 M376.08,236.10 V237.60 M377.51,236.10 V237.60 M378.71,236.10 V237.60 M379.76,236.10 V237.60 M380.68,236.10 V237.60 M386.92,236.10 V237.60 M390.09,236.10 V237.60 M392.34,236.10 V237.60 M394.08,236.10 V237.60 M395.51,236.10 V237.60 M396.71,236.10 V237.60 M397.76,236.10 V237.60 M398.68,236.10 V237.60 M404.92,236.10 V237.60 M408.09,236.10 V237.60 M410.34,236.10 V237.60 M412.08,236.10 V237.60 M413.51,236.10 V237.60 M414.71,236.10 V237.60 M415.76,236.10 V237.60 M416.68,236.10 V237.60 " stroke="#222" stroke-width="0.75" fill="none"/>
<text x="296.10" y="238.85" font-size="8.50" text-anchor="end" fill="#222">0</text>
<text x="296.10" y="223.31" font-size="8.50" text-anchor="end" fill="#222" textLength="9.30" lengthAdjust="spacingAndGlyphs">25</text>
<text x="296.10" y="207.77" font-size="8.50" text-anchor="end" fill="#222" textLength="9.30" lengthAdjust="spacingAndGlyphs">50</text>
<text x="296.10" y="192.23" font-size="8.50" text-anchor="end" fill="#222" textLength="9.30" lengthAdjust="spacingAndGlyphs">75</text>
<text x="296.10" y="176.69" font-size="8.50" text-anchor="end" fill="#222" textLength="13.60" lengthAdjust="spacingAndGlyphs">100</text>
<text x="296.10" y="161.15" font-size="8.50" text-anchor="end" fill="#222" textLength="13.60" lengthAdjust="spacingAndGlyphs">125</text>
<text x="327.50" y="248.40" font-size="7.90" text-anchor="middle" fill="#222">1</text>
<text x="363.50" y="248.40" font-size="7.90" text-anchor="middle" fill="#222" textLength="12.40" lengthAdjust="spacingAndGlyphs">100</text>
<text x="399.50" y="248.40" font-size="7.90" text-anchor="middle" fill="#222" textLength="21.20" lengthAdjust="spacingAndGlyphs">10000</text>
<text x="327.00" y="257.80" font-size="9.80" fill="#222" textLength="65.60" lengthAdjust="spacingAndGlyphs" stroke="#222" stroke-width="0.12">Concentration (nM)</text>
<text x="280.80" y="199.00" font-size="8.90" text-anchor="middle" fill="#222" textLength="66.50" lengthAdjust="spacingAndGlyphs" transform="rotate(-90 280.80 199.00)" stroke="#222" stroke-width="0.12">% Untreated control</text>
<text x="342.60" y="148.90" font-size="8.40" fill="#222" textLength="31.40" lengthAdjust="spacingAndGlyphs">Cmpd 8</text>
<path d="M301.70,205.58 H417.80" stroke="#222" stroke-width="0.9" stroke-dasharray="1.1 1.1"/>
<path d="M312.99,176.21 L313.71,176.23 L314.43,176.25 L315.16,176.27 L315.88,176.30 L316.60,176.33 L317.32,176.37 L318.05,176.41 L318.77,176.46 L319.49,176.51 L320.21,176.56 L320.94,176.63 L321.66,176.70 L322.38,176.78 L323.10,176.87 L323.83,176.98 L324.55,177.09 L325.27,177.22 L325.99,177.36 L326.72,177.53 L327.44,177.71 L328.16,177.91 L328.88,178.13 L329.61,178.38 L330.33,178.66 L331.05,178.96 L331.77,179.30 L332.50,179.68 L333.22,180.09 L333.94,180.54 L334.66,181.04 L335.39,181.58 L336.11,182.17 L336.83,182.81 L337.55,183.50 L338.28,184.24 L339.00,185.03 L339.72,185.88 L340.44,186.77 L341.17,187.71 L341.89,188.69 L342.61,189.71 L343.33,190.76 L344.06,191.85 L344.78,192.95 L345.50,194.06 L346.22,195.18 L346.94,196.29 L347.67,197.39 L348.39,198.47 L349.11,199.53 L349.83,200.55 L350.56,201.53 L351.28,202.48 L352.00,203.37 L352.72,204.22 L353.45,205.01 L354.17,205.76 L354.89,206.45 L355.61,207.09 L356.34,207.69 L357.06,208.23 L357.78,208.73 L358.50,209.18 L359.23,209.60 L359.95,209.98 L360.67,210.32 L361.39,210.62 L362.12,210.90 L362.84,211.15 L363.56,211.38 L364.28,211.58 L365.01,211.76 L365.73,211.92 L366.45,212.07 L367.17,212.20 L367.90,212.31 L368.62,212.42 L369.34,212.51 L370.06,212.59 L370.79,212.66 L371.51,212.73 L372.23,212.79 L372.95,212.84 L373.68,212.88 L374.40,212.92 L375.12,212.96 L375.84,212.99 L376.57,213.02 L377.29,213.05 L378.01,213.07 L378.73,213.09 L379.46,213.11 L380.18,213.12 L380.90,213.14 L381.62,213.15 L382.35,213.16 L383.07,213.17 L383.79,213.18 L384.51,213.18 L385.24,213.19 L385.96,213.20 L386.68,213.20 L387.40,213.21 L388.13,213.21 L388.85,213.22 L389.57,213.22 L390.29,213.22 L391.02,213.22 L391.74,213.23 L392.46,213.23 L393.18,213.23 L393.91,213.23 L394.63,213.23 L395.35,213.23 L396.07,213.24 L396.80,213.24 L397.52,213.24 L398.24,213.24 L398.96,213.24 L399.69,213.24" fill="none" stroke="#4cc05a" stroke-width="1.2" stroke-linejoin="round"/>
<path d="M312.99,176.53 L313.71,176.55 L314.43,176.57 L315.16,176.60 L315.88,176.63 L316.60,176.66 L317.32,176.70 L318.05,176.74 L318.77,176.79 L319.49,176.84 L320.21,176.90 L320.94,176.96 L321.66,177.04 L322.38,177.12 L323.10,177.22 L323.83,177.32 L324.55,177.44 L325.27,177.58 L325.99,177.72 L326.72,177.89 L327.44,178.08 L328.16,178.28 L328.88,178.52 L329.61,178.77 L330.33,179.06 L331.05,179.38 L331.77,179.73 L332.50,180.11 L333.22,180.54 L333.94,181.01 L334.66,181.52 L335.39,182.08 L336.11,182.69 L336.83,183.35 L337.55,184.07 L338.28,184.83 L339.00,185.65 L339.72,186.52 L340.44,187.45 L341.17,188.42 L341.89,189.43 L342.61,190.49 L343.33,191.58 L344.06,192.70 L344.78,193.83 L345.50,194.98 L346.22,196.14 L346.94,197.29 L347.67,198.43 L348.39,199.55 L349.11,200.64 L349.83,201.70 L350.56,202.71 L351.28,203.69 L352.00,204.61 L352.72,205.49 L353.45,206.31 L354.17,207.08 L354.89,207.80 L355.61,208.46 L356.34,209.07 L357.06,209.64 L357.78,210.15 L358.50,210.62 L359.23,211.05 L359.95,211.44 L360.67,211.79 L361.39,212.11 L362.12,212.40 L362.84,212.66 L363.56,212.89 L364.28,213.10 L365.01,213.29 L365.73,213.45 L366.45,213.60 L367.17,213.74 L367.90,213.86 L368.62,213.96 L369.34,214.06 L370.06,214.14 L370.79,214.22 L371.51,214.29 L372.23,214.35 L372.95,214.40 L373.68,214.45 L374.40,214.49 L375.12,214.53 L375.84,214.56 L376.57,214.59 L377.29,214.61 L378.01,214.64 L378.73,214.66 L379.46,214.68 L380.18,214.69 L380.90,214.71 L381.62,214.72 L382.35,214.73 L383.07,214.74 L383.79,214.75 L384.51,214.76 L385.24,214.77 L385.96,214.77 L386.68,214.78 L387.40,214.78 L388.13,214.79 L388.85,214.79 L389.57,214.79 L390.29,214.80 L391.02,214.80 L391.74,214.80 L392.46,214.80 L393.18,214.81 L393.91,214.81 L394.63,214.81 L395.35,214.81 L396.07,214.81 L396.80,214.81 L397.52,214.81 L398.24,214.81 L398.96,214.82 L399.69,214.82" fill="none" stroke="#2a68a8" stroke-width="1.2" stroke-linejoin="round"/>
<path d="M312.99,175.89 L313.71,175.91 L314.43,175.93 L315.16,175.95 L315.88,175.98 L316.60,176.01 L317.32,176.04 L318.05,176.08 L318.77,176.13 L319.49,176.18 L320.21,176.23 L320.94,176.29 L321.66,176.36 L322.38,176.44 L323.10,176.53 L323.83,176.63 L324.55,176.74 L325.27,176.87 L325.99,177.01 L326.72,177.16 L327.44,177.33 L328.16,177.53 L328.88,177.74 L329.61,177.98 L330.33,178.25 L331.05,178.55 L331.77,178.88 L332.50,179.24 L333.22,179.64 L333.94,180.07 L334.66,180.55 L335.39,181.08 L336.11,181.65 L336.83,182.26 L337.55,182.93 L338.28,183.65 L339.00,184.41 L339.72,185.23 L340.44,186.09 L341.17,187.00 L341.89,187.95 L342.61,188.93 L343.33,189.95 L344.06,190.99 L344.78,192.06 L345.50,193.13 L346.22,194.21 L346.94,195.29 L347.67,196.35 L348.39,197.40 L349.11,198.42 L349.83,199.40 L350.56,200.36 L351.28,201.27 L352.00,202.13 L352.72,202.95 L353.45,203.72 L354.17,204.44 L354.89,205.11 L355.61,205.73 L356.34,206.30 L357.06,206.82 L357.78,207.31 L358.50,207.75 L359.23,208.15 L359.95,208.51 L360.67,208.84 L361.39,209.14 L362.12,209.41 L362.84,209.65 L363.56,209.86 L364.28,210.06 L365.01,210.23 L365.73,210.39 L366.45,210.53 L367.17,210.66 L367.90,210.77 L368.62,210.87 L369.34,210.96 L370.06,211.04 L370.79,211.11 L371.51,211.17 L372.23,211.23 L372.95,211.27 L373.68,211.32 L374.40,211.36 L375.12,211.39 L375.84,211.42 L376.57,211.45 L377.29,211.48 L378.01,211.50 L378.73,211.52 L379.46,211.53 L380.18,211.55 L380.90,211.56 L381.62,211.57 L382.35,211.59 L383.07,211.59 L383.79,211.60 L384.51,211.61 L385.24,211.62 L385.96,211.62 L386.68,211.63 L387.40,211.63 L388.13,211.64 L388.85,211.64 L389.57,211.64 L390.29,211.65 L391.02,211.65 L391.74,211.65 L392.46,211.65 L393.18,211.66 L393.91,211.66 L394.63,211.66 L395.35,211.66 L396.07,211.66 L396.80,211.66 L397.52,211.66 L398.24,211.66 L398.96,211.66 L399.69,211.66" fill="none" stroke="#e0455f" stroke-width="1.2" stroke-linejoin="round"/>
<path d="M312.99,179.98 L314.79,176.58 L311.19,176.58 Z" fill="#3cb54a"/>
<path d="M323.83,178.09 L325.63,174.69 L322.03,174.69 Z" fill="#3cb54a"/>
<path d="M334.66,185.03 L336.46,181.63 L332.86,181.63 Z" fill="#3cb54a"/>
<path d="M345.50,194.48 L347.30,191.08 L343.70,191.08 Z" fill="#3cb54a"/>
<path d="M356.34,209.61 L358.14,206.21 L354.54,206.21 Z" fill="#3cb54a"/>
<path d="M367.17,215.28 L368.97,211.88 L365.37,211.88 Z" fill="#3cb54a"/>
<path d="M378.01,215.28 L379.81,211.88 L376.21,211.88 Z" fill="#3cb54a"/>
<path d="M388.85,214.97 L390.65,211.57 L387.05,211.57 Z" fill="#3cb54a"/>
<path d="M399.69,214.65 L401.49,211.25 L397.89,211.25 Z" fill="#3cb54a"/>
<path d="M312.99,174.77 L314.79,178.17 L311.19,178.17 Z" fill="#1b5c9c"/>
<path d="M323.83,174.64 L325.63,178.04 L322.03,178.04 Z" fill="#1b5c9c"/>
<path d="M334.66,182.84 L336.46,186.24 L332.86,186.24 Z" fill="#1b5c9c"/>
<path d="M345.50,191.66 L347.30,195.06 L343.70,195.06 Z" fill="#1b5c9c"/>
<path d="M356.34,206.16 L358.14,209.56 L354.54,209.56 Z" fill="#1b5c9c"/>
<path d="M367.17,213.73 L368.97,217.13 L365.37,217.13 Z" fill="#1b5c9c"/>
<path d="M378.01,214.17 L379.81,217.57 L376.21,217.57 Z" fill="#1b5c9c"/>
<path d="M388.85,214.17 L390.65,217.57 L387.05,217.57 Z" fill="#1b5c9c"/>
<path d="M399.69,211.65 L401.49,215.05 L397.89,215.05 Z" fill="#1b5c9c"/>
<circle cx="312.99" cy="173.09" r="1.90" fill="#d2133a"/>
<circle cx="323.83" cy="179.83" r="1.90" fill="#d2133a"/>
<circle cx="334.66" cy="182.99" r="1.90" fill="#d2133a"/>
<circle cx="345.50" cy="194.33" r="1.90" fill="#d2133a"/>
<circle cx="356.34" cy="208.01" r="1.90" fill="#d2133a"/>
<circle cx="367.17" cy="212.43" r="1.90" fill="#d2133a"/>
<circle cx="378.01" cy="211.35" r="1.90" fill="#d2133a"/>
<circle cx="388.85" cy="211.35" r="1.90" fill="#d2133a"/>
<circle cx="399.69" cy="209.02" r="1.90" fill="#d2133a"/>
<path d="M323.83,187.40 V171.64 M322.23,187.40 H325.43 M322.23,171.64 H325.43" stroke="#d2133a" stroke-width="0.9" fill="none"/>
<path d="M312.99,181.09 V175.42 M311.39,181.09 H314.59 M311.39,175.42 H314.59" stroke="#3cb54a" stroke-width="0.9" fill="none"/>
<path d="M356.34,210.09 V206.31 M354.74,210.09 H357.94 M354.74,206.31 H357.94" stroke="#d2133a" stroke-width="0.9" fill="none"/>
<path d="M345.50,194.33 V190.55 M343.90,194.33 H347.10 M343.90,190.55 H347.10" stroke="#3cb54a" stroke-width="0.9" fill="none"/>
<path d="M373.00,163.80 H380.70" stroke="#d2133a" stroke-width="1.1"/>
<circle cx="376.85" cy="163.80" r="1.80" fill="#d2133a"/>
<text x="383.80" y="166.10" font-size="6.60" fill="#222" textLength="84.60" lengthAdjust="spacingAndGlyphs">MHH-CALL-4, IC50 32.09 nM</text>
<path d="M373.00,174.70 H380.70" stroke="#1b5c9c" stroke-width="1.1"/>
<path d="M376.85,172.76 L378.56,175.99 L375.14,175.99 Z" fill="#1b5c9c"/>
<text x="385.20" y="177.00" font-size="6.60" fill="#222" textLength="114.90" lengthAdjust="spacingAndGlyphs">MHH-CALL4-GSPT1-WT, IC50 33.41 nM</text>
<path d="M373.00,185.00 H380.70" stroke="#3cb54a" stroke-width="1.1"/>
<path d="M376.85,186.94 L378.56,183.71 L375.14,183.71 Z" fill="#3cb54a"/>
<text x="383.80" y="187.30" font-size="6.60" fill="#222" textLength="128.90" lengthAdjust="spacingAndGlyphs">MHH-CALL-4-GSPT1-G575N, IC50 33.55 nM</text>
<path d="M40.40,296.90 V375.80 M39.80,375.20 H158.80" stroke="#111" stroke-width="1.45" fill="none"/>
<path d="M36.80,375.20 H40.40 M36.80,359.54 H40.40 M36.80,343.88 H40.40 M36.80,328.22 H40.40 M36.80,312.56 H40.40 M36.80,296.90 H40.40 M40.85,375.20 V377.80 M93.60,375.20 V377.80 M146.35,375.20 V377.80 M51.40,375.20 V376.70 M61.95,375.20 V376.70 M72.50,375.20 V376.70 M83.05,375.20 V376.70 M104.15,375.20 V376.70 M114.70,375.20 V376.70 M125.25,375.20 V376.70 M135.80,375.20 V376.70 " stroke="#222" stroke-width="0.75" fill="none"/>
<text x="35.80" y="377.95" font-size="8.50" text-anchor="end" fill="#222">0</text>
<text x="35.80" y="362.29" font-size="8.50" text-anchor="end" fill="#222" textLength="9.30" lengthAdjust="spacingAndGlyphs">25</text>
<text x="35.80" y="346.63" font-size="8.50" text-anchor="end" fill="#222" textLength="9.30" lengthAdjust="spacingAndGlyphs">50</text>
<text x="35.80" y="330.97" font-size="8.50" text-anchor="end" fill="#222" textLength="9.30" lengthAdjust="spacingAndGlyphs">75</text>
<text x="35.80" y="315.31" font-size="8.50" text-anchor="end" fill="#222" textLength="13.60" lengthAdjust="spacingAndGlyphs">100</text>
<text x="35.80" y="299.65" font-size="8.50" text-anchor="end" fill="#222" textLength="13.60" lengthAdjust="spacingAndGlyphs">125</text>
<text x="39.85" y="386.10" font-size="7.90" text-anchor="middle" fill="#222" textLength="29.80" lengthAdjust="spacingAndGlyphs">0.00001</text>
<text x="93.60" y="386.10" font-size="7.90" text-anchor="middle" fill="#222">1</text>
<text x="146.35" y="386.10" font-size="7.90" text-anchor="middle" fill="#222" textLength="26.00" lengthAdjust="spacingAndGlyphs">100000</text>
<text x="66.20" y="395.50" font-size="9.80" fill="#222" textLength="65.20" lengthAdjust="spacingAndGlyphs" stroke="#222" stroke-width="0.12">Concentration (nM)</text>
<text x="20.70" y="337.00" font-size="8.90" text-anchor="middle" fill="#222" textLength="66.20" lengthAdjust="spacingAndGlyphs" transform="rotate(-90 20.70 337.00)" stroke="#222" stroke-width="0.12">% Untreated control</text>
<text x="83.70" y="288.10" font-size="9.40" fill="#222" textLength="30.00" lengthAdjust="spacingAndGlyphs">CC-885</text>
<path d="M41.40,343.58 H156.00" stroke="#222" stroke-width="0.9" stroke-dasharray="1.1 1.1"/>
<path d="M51.30,316.53 L51.73,316.55 L52.16,316.58 L52.59,316.60 L53.02,316.62 L53.45,316.64 L53.88,316.67 L54.31,316.69 L54.74,316.72 L55.17,316.74 L55.60,316.77 L56.03,316.79 L56.46,316.82 L56.89,316.85 L57.32,316.88 L57.75,316.91 L58.18,316.94 L58.61,316.97 L59.04,317.00 L59.47,317.03 L59.90,317.06 L60.33,317.10 L60.76,317.13 L61.19,317.17 L61.62,317.20 L62.05,317.24 L62.48,317.28 L62.91,317.32 L63.34,317.36 L63.77,317.40 L64.20,317.44 L64.63,317.48 L65.06,317.52 L65.49,317.57 L65.92,317.61 L66.35,317.66 L66.78,317.70 L67.21,317.75 L67.64,317.80 L68.07,317.85 L68.50,317.90 L68.93,317.95 L69.36,318.00 L69.79,318.06 L70.22,318.11 L70.65,318.17 L71.08,318.23 L71.51,318.28 L71.94,318.34 L72.37,318.40 L72.80,318.47 L73.23,318.53 L73.66,318.59 L74.09,318.66 L74.52,318.73 L74.95,318.79 L75.38,318.86 L75.81,318.93 L76.24,319.01 L76.67,319.08 L77.10,319.15 L77.53,319.23 L77.96,319.31 L78.39,319.39 L78.82,319.47 L79.25,319.55 L79.68,319.63 L80.11,319.71 L80.54,319.80 L80.97,319.89 L81.40,319.97 L81.83,320.06 L82.26,320.15 L82.69,320.25 L83.12,320.34 L83.55,320.44 L83.98,320.53 L84.41,320.63 L84.84,320.73 L85.27,320.83 L85.70,320.93 L86.13,321.04 L86.56,321.14 L86.99,321.25 L87.42,321.36 L87.85,321.46 L88.28,321.57 L88.71,321.69 L89.14,321.80 L89.57,321.91 L90.00,322.03 L90.43,322.15 L90.86,322.26 L91.29,322.38 L91.72,322.50 L92.15,322.63 L92.58,322.75 L93.01,322.87 L93.44,323.00 L93.87,323.12 L94.30,323.25 L94.73,323.38 L95.16,323.51 L95.59,323.64 L96.02,323.77 L96.45,323.90 L96.88,324.04 L97.31,324.17 L97.74,324.30 L98.17,324.44 L98.60,324.57 L99.03,324.71 L99.46,324.85 L99.89,324.99 L100.32,325.12 L100.75,325.26 L101.18,325.40 L101.61,325.54 L102.04,325.68 L102.47,325.82 L102.90,325.96 L103.33,326.11 L103.76,326.25 L104.19,326.39 L104.62,326.53 L105.05,326.67 L105.48,326.81 L105.91,326.95 L106.34,327.09 L106.77,327.24 L107.20,327.38 L107.63,327.52 L108.06,327.66 L108.49,327.80 L108.92,327.94 L109.35,328.08 L109.78,328.22 L110.21,328.35 L110.64,328.49 L111.07,328.63 L111.50,328.76 L111.93,328.90 L112.36,329.04 L112.79,329.17 L113.22,329.30 L113.65,329.44 L114.08,329.57 L114.51,329.70 L114.94,329.83 L115.37,329.96 L115.80,330.09 L116.23,330.21 L116.66,330.34 L117.09,330.46 L117.52,330.59 L117.95,330.71 L118.38,330.83 L118.81,330.95 L119.24,331.07 L119.67,331.19 L120.10,331.31 L120.53,331.42 L120.96,331.54 L121.39,331.65 L121.82,331.76 L122.25,331.87 L122.68,331.98 L123.11,332.09 L123.54,332.19 L123.97,332.30 L124.40,332.40 L124.83,332.50 L125.26,332.60 L125.69,332.70 L126.12,332.80 L126.55,332.89 L126.98,332.99 L127.41,333.08 L127.84,333.18 L128.27,333.27 L128.70,333.36 L129.13,333.44 L129.56,333.53 L129.99,333.61 L130.42,333.70 L130.85,333.78 L131.28,333.86 L131.71,333.94 L132.14,334.02 L132.57,334.10 L133.00,334.17 L133.43,334.25 L133.86,334.32 L134.29,334.39 L134.72,334.46 L135.15,334.53 L135.58,334.60 L136.01,334.66 L136.44,334.73 L136.87,334.79 L137.30,334.86" fill="none" stroke="#4cc05a" stroke-width="1.2" stroke-linejoin="round"/>
<path d="M51.30,313.06 L51.73,313.06 L52.16,313.06 L52.59,313.06 L53.02,313.06 L53.45,313.06 L53.88,313.06 L54.31,313.06 L54.74,313.06 L55.17,313.06 L55.60,313.06 L56.03,313.06 L56.46,313.06 L56.89,313.06 L57.32,313.06 L57.75,313.06 L58.18,313.06 L58.61,313.06 L59.04,313.06 L59.47,313.06 L59.90,313.06 L60.33,313.06 L60.76,313.06 L61.19,313.06 L61.62,313.06 L62.05,313.06 L62.48,313.06 L62.91,313.06 L63.34,313.06 L63.77,313.06 L64.20,313.06 L64.63,313.06 L65.06,313.06 L65.49,313.06 L65.92,313.06 L66.35,313.07 L66.78,313.07 L67.21,313.07 L67.64,313.07 L68.07,313.07 L68.50,313.08 L68.93,313.08 L69.36,313.08 L69.79,313.09 L70.22,313.10 L70.65,313.11 L71.08,313.12 L71.51,313.13 L71.94,313.15 L72.37,313.18 L72.80,313.21 L73.23,313.25 L73.66,313.30 L74.09,313.36 L74.52,313.44 L74.95,313.55 L75.38,313.67 L75.81,313.84 L76.24,314.04 L76.67,314.29 L77.10,314.61 L77.53,315.01 L77.96,315.51 L78.39,316.13 L78.82,316.89 L79.25,317.83 L79.68,318.97 L80.11,320.34 L80.54,321.98 L80.97,323.91 L81.40,326.14 L81.83,328.67 L82.26,331.49 L82.69,334.55 L83.12,337.79 L83.55,341.14 L83.98,344.50 L84.41,347.77 L84.84,350.88 L85.27,353.76 L85.70,356.36 L86.13,358.66 L86.56,360.66 L86.99,362.36 L87.42,363.79 L87.85,364.99 L88.28,365.97 L88.71,366.77 L89.14,367.42 L89.57,367.94 L90.00,368.36 L90.43,368.70 L90.86,368.97 L91.29,369.18 L91.72,369.35 L92.15,369.49 L92.58,369.60 L93.01,369.68 L93.44,369.75 L93.87,369.80 L94.30,369.84 L94.73,369.88 L95.16,369.90 L95.59,369.92 L96.02,369.94 L96.45,369.95 L96.88,369.96 L97.31,369.97 L97.74,369.98 L98.17,369.98 L98.60,369.99 L99.03,369.99 L99.46,369.99 L99.89,369.99 L100.32,370.00 L100.75,370.00 L101.18,370.00 L101.61,370.00 L102.04,370.00 L102.47,370.00 L102.90,370.00 L103.33,370.00 L103.76,370.00 L104.19,370.00 L104.62,370.00 L105.05,370.00 L105.48,370.00 L105.91,370.00 L106.34,370.00 L106.77,370.00 L107.20,370.00 L107.63,370.00 L108.06,370.00 L108.49,370.00 L108.92,370.00 L109.35,370.00 L109.78,370.00 L110.21,370.00 L110.64,370.00 L111.07,370.00 L111.50,370.00 L111.93,370.00 L112.36,370.00 L112.79,370.00 L113.22,370.00 L113.65,370.00 L114.08,370.00 L114.51,370.00 L114.94,370.00 L115.37,370.00 L115.80,370.00 L116.23,370.00 L116.66,370.00 L117.09,370.00 L117.52,370.00 L117.95,370.00 L118.38,370.00 L118.81,370.00 L119.24,370.00 L119.67,370.00 L120.10,370.00 L120.53,370.00 L120.96,370.00 L121.39,370.00 L121.82,370.00 L122.25,370.00 L122.68,370.00 L123.11,370.00 L123.54,370.00 L123.97,370.00 L124.40,370.00 L124.83,370.00 L125.26,370.00 L125.69,370.00 L126.12,370.00 L126.55,370.00 L126.98,370.00 L127.41,370.00 L127.84,370.00 L128.27,370.00 L128.70,370.00 L129.13,370.00 L129.56,370.00 L129.99,370.00 L130.42,370.00 L130.85,370.00 L131.28,370.00 L131.71,370.00 L132.14,370.00 L132.57,370.00 L133.00,370.00 L133.43,370.00 L133.86,370.00 L134.29,370.00 L134.72,370.00 L135.15,370.00 L135.58,370.00 L136.01,370.00 L136.44,370.00 L136.87,370.00 L137.30,370.00" fill="none" stroke="#2a68a8" stroke-width="1.2" stroke-linejoin="round"/>
<path d="M51.30,312.87 L51.73,312.87 L52.16,312.87 L52.59,312.87 L53.02,312.87 L53.45,312.87 L53.88,312.87 L54.31,312.87 L54.74,312.87 L55.17,312.87 L55.60,312.87 L56.03,312.87 L56.46,312.87 L56.89,312.87 L57.32,312.87 L57.75,312.87 L58.18,312.87 L58.61,312.87 L59.04,312.87 L59.47,312.87 L59.90,312.87 L60.33,312.87 L60.76,312.87 L61.19,312.87 L61.62,312.87 L62.05,312.87 L62.48,312.87 L62.91,312.87 L63.34,312.87 L63.77,312.88 L64.20,312.88 L64.63,312.88 L65.06,312.88 L65.49,312.88 L65.92,312.88 L66.35,312.88 L66.78,312.89 L67.21,312.89 L67.64,312.90 L68.07,312.91 L68.50,312.92 L68.93,312.94 L69.36,312.96 L69.79,312.99 L70.22,313.02 L70.65,313.08 L71.08,313.14 L71.51,313.24 L71.94,313.36 L72.37,313.52 L72.80,313.74 L73.23,314.03 L73.66,314.41 L74.09,314.91 L74.52,315.57 L74.95,316.44 L75.38,317.55 L75.81,318.98 L76.24,320.77 L76.67,323.00 L77.10,325.70 L77.53,328.88 L77.96,332.52 L78.39,336.54 L78.82,340.81 L79.25,345.15 L79.68,349.39 L80.11,353.35 L80.54,356.92 L80.97,360.03 L81.40,362.65 L81.83,364.80 L82.26,366.53 L82.69,367.91 L83.12,368.98 L83.55,369.80 L83.98,370.43 L84.41,370.92 L84.84,371.28 L85.27,371.56 L85.70,371.76 L86.13,371.92 L86.56,372.03 L86.99,372.12 L87.42,372.19 L87.85,372.24 L88.28,372.27 L88.71,372.30 L89.14,372.32 L89.57,372.34 L90.00,372.35 L90.43,372.36 L90.86,372.36 L91.29,372.37 L91.72,372.37 L92.15,372.37 L92.58,372.38 L93.01,372.38 L93.44,372.38 L93.87,372.38 L94.30,372.38 L94.73,372.38 L95.16,372.38 L95.59,372.38 L96.02,372.38 L96.45,372.38 L96.88,372.38 L97.31,372.38 L97.74,372.38 L98.17,372.38 L98.60,372.38 L99.03,372.38 L99.46,372.38 L99.89,372.38 L100.32,372.38 L100.75,372.38 L101.18,372.38 L101.61,372.38 L102.04,372.38 L102.47,372.38 L102.90,372.38 L103.33,372.38 L103.76,372.38 L104.19,372.38 L104.62,372.38 L105.05,372.38 L105.48,372.38 L105.91,372.38 L106.34,372.38 L106.77,372.38 L107.20,372.38 L107.63,372.38 L108.06,372.38 L108.49,372.38 L108.92,372.38 L109.35,372.38 L109.78,372.38 L110.21,372.38 L110.64,372.38 L111.07,372.38 L111.50,372.38 L111.93,372.38 L112.36,372.38 L112.79,372.38 L113.22,372.38 L113.65,372.38 L114.08,372.38 L114.51,372.38 L114.94,372.38 L115.37,372.38 L115.80,372.38 L116.23,372.38 L116.66,372.38 L117.09,372.38 L117.52,372.38 L117.95,372.38 L118.38,372.38 L118.81,372.38 L119.24,372.38 L119.67,372.38 L120.10,372.38 L120.53,372.38 L120.96,372.38 L121.39,372.38 L121.82,372.38 L122.25,372.38 L122.68,372.38 L123.11,372.38 L123.54,372.38 L123.97,372.38 L124.40,372.38 L124.83,372.38 L125.26,372.38 L125.69,372.38 L126.12,372.38 L126.55,372.38 L126.98,372.38 L127.41,372.38 L127.84,372.38 L128.27,372.38 L128.70,372.38 L129.13,372.38 L129.56,372.38 L129.99,372.38 L130.42,372.38 L130.85,372.38 L131.28,372.38 L131.71,372.38 L132.14,372.38 L132.57,372.38 L133.00,372.38 L133.43,372.38 L133.86,372.38 L134.29,372.38 L134.72,372.38 L135.15,372.38 L135.58,372.38 L136.01,372.38 L136.44,372.38 L136.87,372.38 L137.30,372.38" fill="none" stroke="#e0455f" stroke-width="1.2" stroke-linejoin="round"/>
<path d="M51.30,317.73 L53.10,314.33 L49.50,314.33 Z" fill="#3cb54a"/>
<path d="M60.90,319.61 L62.70,316.21 L59.10,316.21 Z" fill="#3cb54a"/>
<path d="M71.10,320.55 L72.90,317.15 L69.30,317.15 Z" fill="#3cb54a"/>
<path d="M81.40,324.31 L83.20,320.91 L79.60,320.91 Z" fill="#3cb54a"/>
<path d="M91.60,323.37 L93.40,319.97 L89.80,319.97 Z" fill="#3cb54a"/>
<path d="M101.50,329.01 L103.30,325.61 L99.70,325.61 Z" fill="#3cb54a"/>
<path d="M111.80,333.39 L113.60,329.99 L110.00,329.99 Z" fill="#3cb54a"/>
<path d="M121.90,334.02 L123.70,330.62 L120.10,330.62 Z" fill="#3cb54a"/>
<path d="M132.10,336.52 L133.90,333.12 L130.30,333.12 Z" fill="#3cb54a"/>
<path d="M137.30,334.02 L139.10,330.62 L135.50,330.62 Z" fill="#3cb54a"/>
<path d="M51.30,310.83 L53.10,314.23 L49.50,314.23 Z" fill="#1b5c9c"/>
<path d="M60.90,311.15 L62.70,314.55 L59.10,314.55 Z" fill="#1b5c9c"/>
<path d="M71.10,312.09 L72.90,315.49 L69.30,315.49 Z" fill="#1b5c9c"/>
<path d="M81.40,329.00 L83.20,332.40 L79.60,332.40 Z" fill="#1b5c9c"/>
<path d="M91.60,365.02 L93.40,368.42 L89.80,368.42 Z" fill="#1b5c9c"/>
<path d="M101.50,367.84 L103.30,371.24 L99.70,371.24 Z" fill="#1b5c9c"/>
<path d="M111.80,367.84 L113.60,371.24 L110.00,371.24 Z" fill="#1b5c9c"/>
<path d="M121.90,368.15 L123.70,371.55 L120.10,371.55 Z" fill="#1b5c9c"/>
<path d="M132.10,368.46 L133.90,371.86 L130.30,371.86 Z" fill="#1b5c9c"/>
<path d="M137.30,368.46 L139.10,371.86 L135.50,371.86 Z" fill="#1b5c9c"/>
<circle cx="51.30" cy="312.87" r="1.90" fill="#d2133a"/>
<circle cx="60.90" cy="313.19" r="1.90" fill="#d2133a"/>
<circle cx="71.10" cy="313.50" r="1.90" fill="#d2133a"/>
<circle cx="81.40" cy="359.98" r="1.90" fill="#d2133a"/>
<circle cx="91.60" cy="372.38" r="1.90" fill="#d2133a"/>
<circle cx="101.50" cy="371.75" r="1.90" fill="#d2133a"/>
<circle cx="111.80" cy="372.69" r="1.90" fill="#d2133a"/>
<circle cx="121.90" cy="372.69" r="1.90" fill="#d2133a"/>
<circle cx="132.10" cy="372.69" r="1.90" fill="#d2133a"/>
<circle cx="137.30" cy="372.38" r="1.90" fill="#d2133a"/>
<path d="M51.30,319.45 V305.04 M49.70,319.45 H52.90 M49.70,305.04 H52.90" stroke="#d2133a" stroke-width="0.9" fill="none"/>
<path d="M60.90,315.69 V310.68 M59.30,315.69 H62.50 M59.30,310.68 H62.50" stroke="#d2133a" stroke-width="0.9" fill="none"/>
<path d="M71.10,315.69 V311.31 M69.50,315.69 H72.70 M69.50,311.31 H72.70" stroke="#d2133a" stroke-width="0.9" fill="none"/>
<path d="M81.40,364.55 V355.16 M79.80,364.55 H83.00 M79.80,355.16 H83.00" stroke="#d2133a" stroke-width="0.9" fill="none"/>
<path d="M132.10,336.36 V332.60 M130.50,336.36 H133.70 M130.50,332.60 H133.70" stroke="#3cb54a" stroke-width="0.9" fill="none"/>
<path d="M91.60,368.94 V365.18 M90.00,368.94 H93.20 M90.00,365.18 H93.20" stroke="#1b5c9c" stroke-width="0.9" fill="none"/>
<path d="M91.60,323.21 V319.45 M90.00,323.21 H93.20 M90.00,319.45 H93.20" stroke="#3cb54a" stroke-width="0.9" fill="none"/>
<path d="M51.30,318.20 V313.81 M49.70,318.20 H52.90 M49.70,313.81 H52.90" stroke="#3cb54a" stroke-width="0.9" fill="none"/>
<path d="M113.50,301.80 H120.70" stroke="#d2133a" stroke-width="1.1"/>
<circle cx="117.10" cy="301.80" r="1.80" fill="#d2133a"/>
<text x="123.40" y="304.10" font-size="6.60" fill="#222" textLength="84.40" lengthAdjust="spacingAndGlyphs">MHH-CALL-4, IC50 0.047 nM</text>
<path d="M113.50,312.80 H120.70" stroke="#1b5c9c" stroke-width="1.1"/>
<path d="M117.10,310.86 L118.81,314.09 L115.39,314.09 Z" fill="#1b5c9c"/>
<text x="124.90" y="315.10" font-size="6.60" fill="#222" textLength="103.40" lengthAdjust="spacingAndGlyphs">MHH-CALL4-GSPT1, IC50 0.128 nM</text>
<path d="M113.50,322.80 H120.70" stroke="#3cb54a" stroke-width="1.1"/>
<path d="M117.10,324.74 L118.81,321.51 L115.39,321.51 Z" fill="#3cb54a"/>
<text x="122.60" y="325.10" font-size="6.60" fill="#222" textLength="134.00" lengthAdjust="spacingAndGlyphs">MHH-CALL-4-GSPT1-G575N, IC50&gt;12900 nM</text>
<path d="M0,0.5 H520 M0.5,0 V404 M0,403.4 H520 M519.4,0 V404" fill="none" stroke="#111" stroke-width="1.15"/>
</svg>
</body></html>
